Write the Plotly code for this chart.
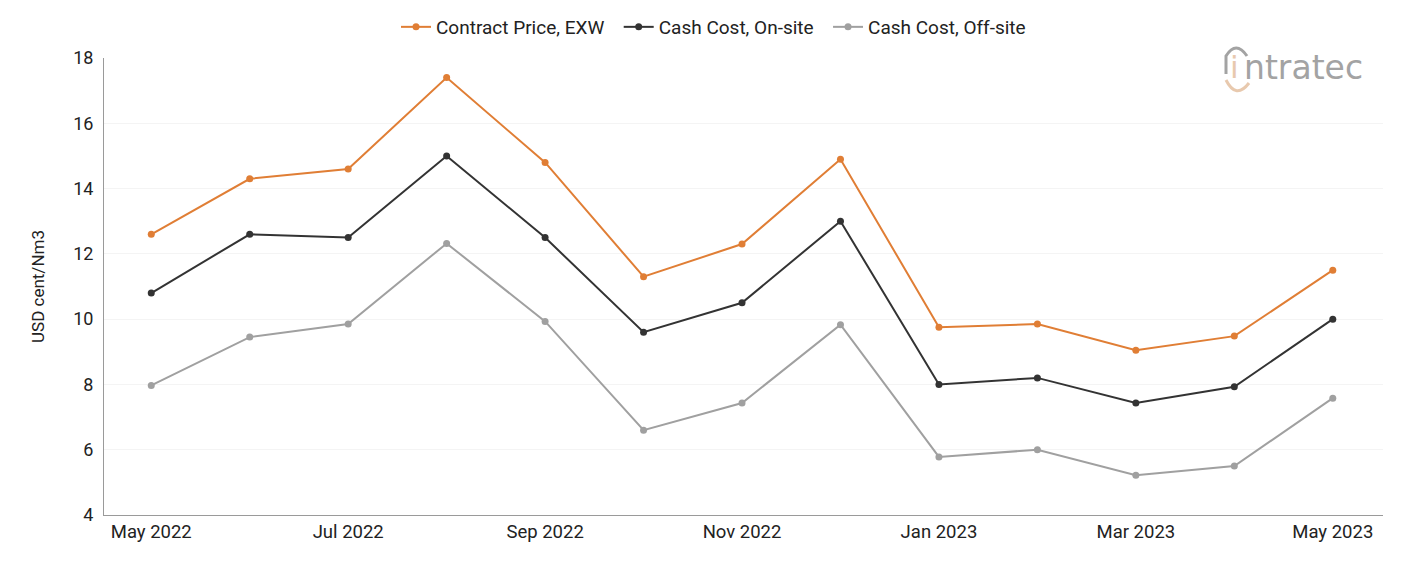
import plotly.graph_objects as go

months = ["May 2022", "Jun 2022", "Jul 2022", "Aug 2022", "Sep 2022", "Oct 2022", "Nov 2022",
          "Dec 2022", "Jan 2023", "Feb 2023", "Mar 2023", "Apr 2023", "May 2023"]
contract_price = [12.6, 14.3, 14.6, 17.4, 14.8, 11.3, 12.3, 14.9, 9.75, 9.85, 9.05, 9.48, 11.5]
cash_onsite = [10.8, 12.6, 12.5, 15.0, 12.5, 9.6, 10.5, 13.0, 8.0, 8.2, 7.43, 7.93, 10.0]
cash_offsite = [7.97, 9.45, 9.85, 12.32, 9.93, 6.6, 7.43, 9.83, 5.78, 6.0, 5.22, 5.5, 7.58]
tick_labels = ["May 2022", "Jul 2022", "Sep 2022", "Nov 2022", "Jan 2023", "Mar 2023", "May 2023"]

series = [
    ("Contract Price, EXW", contract_price, "#E07E35", "\u00a0\u00a0"),
    ("Cash Cost, On-site", cash_onsite, "#333333", "\u00a0\u00a0"),
    ("Cash Cost, Off-site", cash_offsite, "#A0A0A0", ""),
]

W, H = 1401, 561
L, R, T, B = 104, 18, 58, 46

fig = go.Figure()
for name, vals, col, pad in series:
    fig.add_trace(go.Scatter(
        x=months, y=vals, name=name + pad, mode="lines+markers",
        line=dict(color=col, width=2), marker=dict(color=col, size=7),
    ))

fig.update_layout(
    width=W, height=H,
    margin=dict(l=L, r=R, t=T, b=B, autoexpand=False),
    paper_bgcolor="white", plot_bgcolor="white",
    font=dict(family="Roboto", size=18, color="#222222"),
    showlegend=True,
    legend=dict(orientation="h", x=396 / W, xref="container", xanchor="left",
                y=1 - 27 / H, yref="container", yanchor="middle",
                font=dict(size=19, color="#222222"), traceorder="normal"),
    xaxis=dict(
        type="category", range=[-0.48, 12.51],
        tickmode="array", tickvals=tick_labels, ticktext=tick_labels,
        showgrid=False, showline=True, linecolor="#9a9a9a", linewidth=1,
        ticks="", tickfont=dict(size=18.5, color="#222222"), zeroline=False,
    ),
    yaxis=dict(
        range=[4, 18], dtick=2, showgrid=True, gridcolor="#f4f4f4", gridwidth=1,
        showline=True, linecolor="#9a9a9a", linewidth=1, ticks="",
        ticklabelstandoff=6,
        tickfont=dict(size=18, color="#222222"), zeroline=False,
        title=dict(text="USD cent/Nm3", font=dict(size=17, color="#222222"), standoff=24),
    ),
)

def px(x):
    return (x - L) / (W - L - R)

def py(y):
    return (H - B - y) / (H - T - B)

# logo
fig.add_annotation(
    xref="paper", yref="paper", x=px(1242), y=py(67), xanchor="left", yanchor="middle",
    text="ntratec", showarrow=False,
    font=dict(family="DejaVu Sans", size=33, color="#A3A3A3"),
)
fig.add_annotation(
    xref="paper", yref="paper", x=px(1234), y=py(67), xanchor="center", yanchor="middle",
    text="i", showarrow=False,
    font=dict(family="DejaVu Sans", size=31, color="#E8C9AE"),
)
fig.add_shape(type="path", xref="paper", yref="paper",
              path=f"M {px(1226)} {py(74)} L {px(1226)} {py(56)} Q {px(1236)} {py(40)} {px(1247)} {py(56)}",
              line=dict(color="#A3A3A3", width=3))
fig.add_shape(type="path", xref="paper", yref="paper",
              path=f"M {px(1226)} {py(80)} Q {px(1236)} {py(100)} {px(1249)} {py(83)}",
              line=dict(color="#E8C9AE", width=3))

fig.write_html("out.html")
